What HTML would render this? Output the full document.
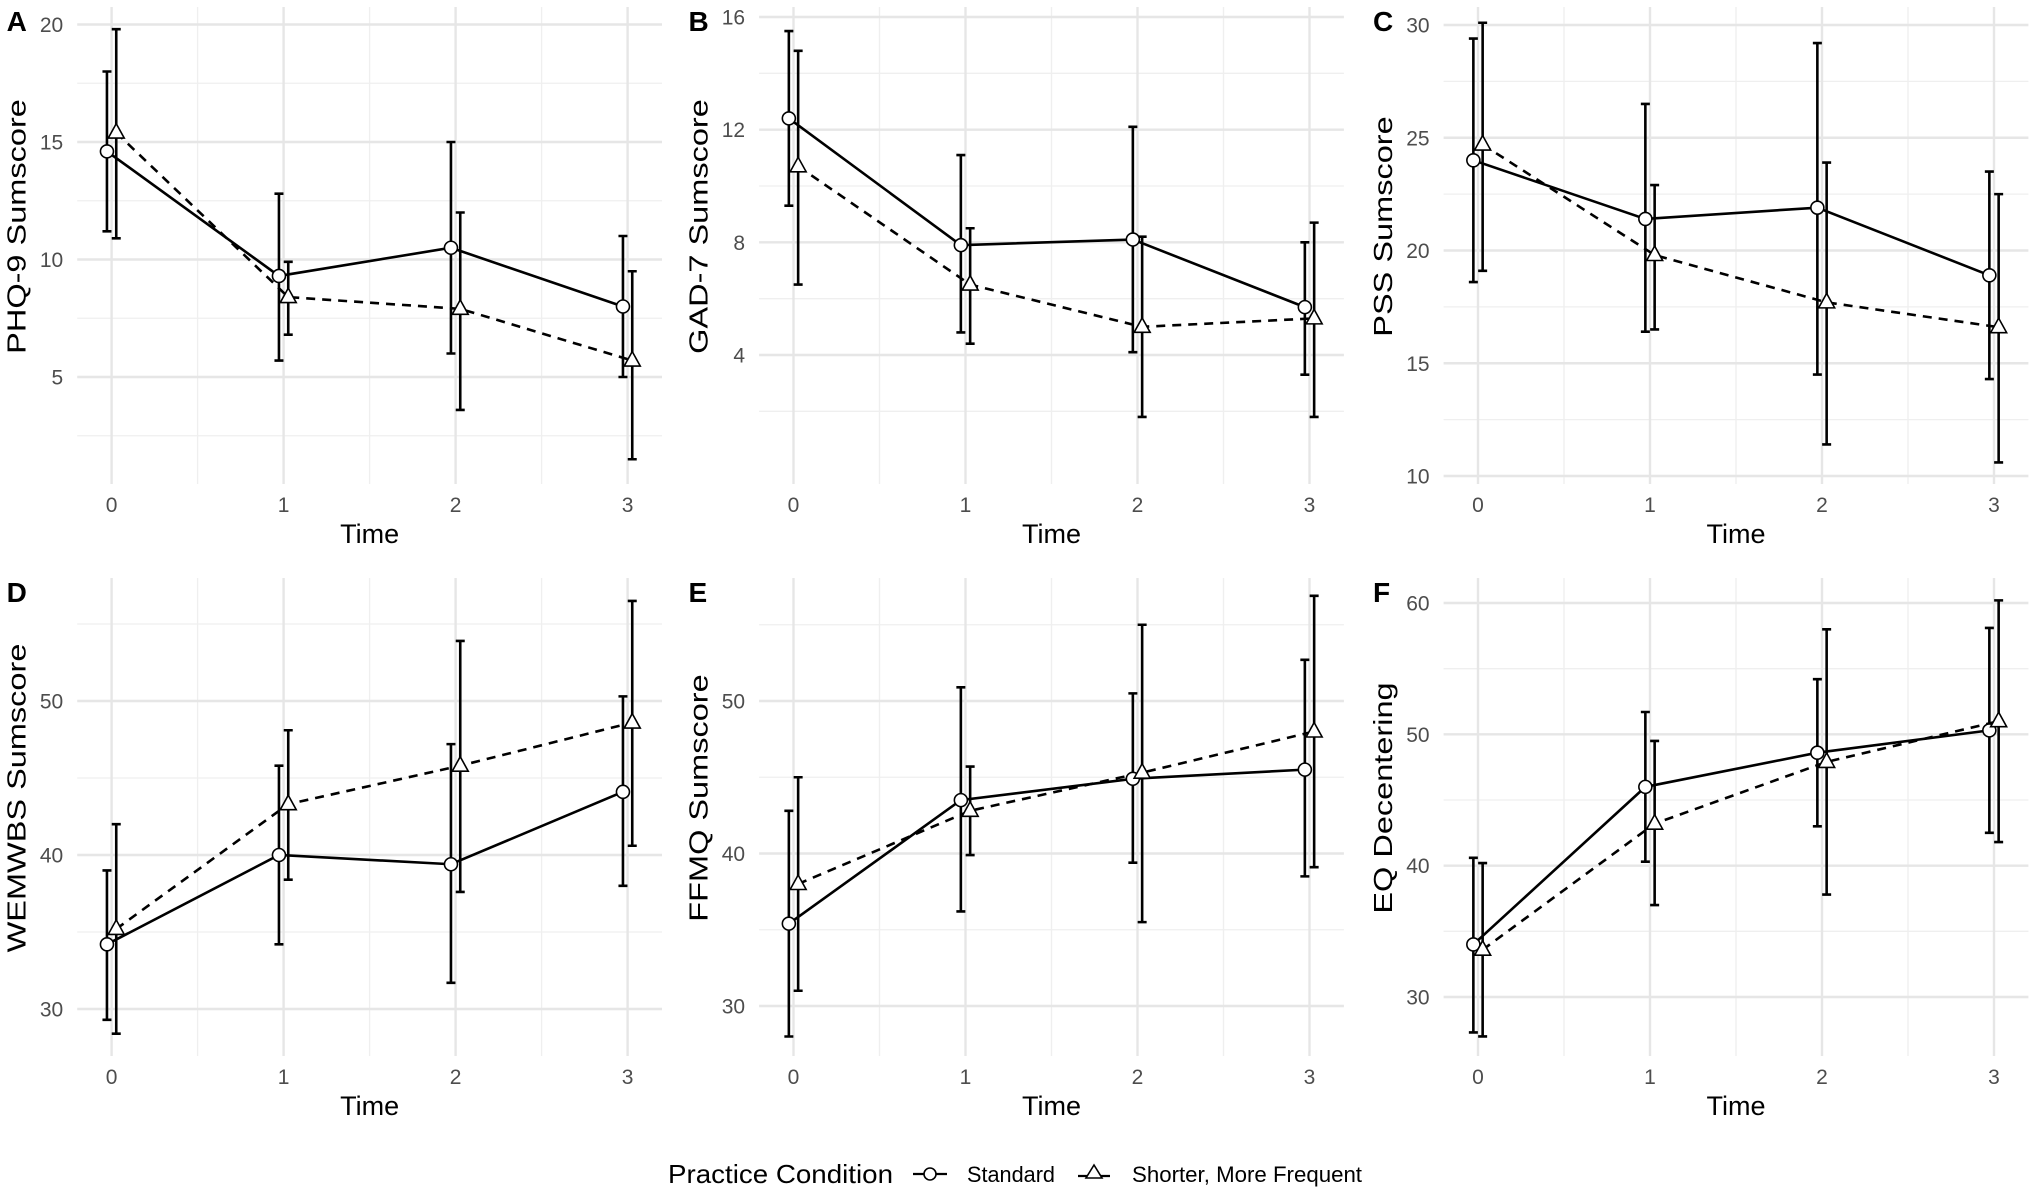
<!DOCTYPE html>
<html><head><meta charset="utf-8"><style>
html,body{margin:0;padding:0;background:#fff;}
svg{display:block;font-family:"Liberation Sans",Arial,sans-serif;}
</style></head><body>
<svg id="fig" width="2033" height="1192" viewBox="0 0 2033 1192" xmlns="http://www.w3.org/2000/svg"></svg>
<script>
const times = [0, 1, 2, 3];
const panelLetters = ["A","B","C","D","E","F"];
const yTitles = ["PHQ-9 Sumscore","GAD-7 Sumscore","PSS Sumscore","WEMWBS Sumscore","FFMQ Sumscore","EQ Decentering"];
const yTicks = [[5,10,15,20],[4,8,12,16],[10,15,20,25,30],[30,40,50],[30,40,50],[30,40,50,60]];
const stdMean = [[14.6,9.3,10.5,8.0],[12.4,7.9,8.1,5.7],[24.0,21.4,21.9,18.9],[34.2,40.0,39.4,44.1],[35.4,43.5,44.9,45.5],[34.0,46.0,48.6,50.3]];
const stdLo = [[11.2,5.7,6.0,5.0],[9.3,4.8,4.1,3.3],[18.6,16.4,14.5,14.3],[29.3,34.2,31.7,38.0],[28.0,36.2,39.4,38.5],[27.3,40.3,43.0,42.5]];
const stdHi = [[18.0,12.8,15.0,11.0],[15.5,11.1,12.1,8.0],[29.4,26.5,29.2,23.5],[39.0,45.8,47.2,50.3],[42.8,50.9,50.5,52.7],[40.6,51.7,54.2,58.1]];
const shMean = [[15.4,8.4,7.9,5.7],[10.7,6.5,5.0,5.3],[24.7,19.8,17.7,16.6],[35.2,43.3,45.8,48.6],[38.0,42.8,45.3,48.0],[33.6,43.2,47.9,51.0]];
const shLo = [[10.9,6.8,3.6,1.5],[6.5,4.4,1.8,1.8],[19.1,16.5,11.4,10.6],[28.4,38.4,37.6,40.6],[31.0,39.9,35.5,39.1],[27.0,37.0,37.8,41.8]];
const shHi = [[19.8,9.9,12.0,9.5],[14.8,8.5,8.2,8.7],[30.1,22.9,23.9,22.5],[42.0,48.1,53.9,56.5],[45.0,45.7,55.0,56.9],[40.2,49.5,58.0,60.2]];

// layout (pixel calibration, not data)
const colX0 = [111.6, 793.5, 1478];
const unitW = 172;
const rowTop = [7, 578], rowBot = [484, 1056];
const yCal = [[20,24.5,5,377],[16,17,4,355],[30,25,10,476],[50,701,30,1009],[50,701,30,1006],[60,603,30,997]];
const NS = "http://www.w3.org/2000/svg";
const svg = document.getElementById("fig");
function el(tag, attrs, parent){const e=document.createElementNS(NS,tag);for(const k in attrs)e.setAttribute(k,attrs[k]);(parent||svg).appendChild(e);return e;}
function stretch(t,f){const n=t.getComputedTextLength();t.setAttribute("textLength",n*f);t.setAttribute("lengthAdjust","spacingAndGlyphs");}

for(let p=0;p<6;p++){
  const col=p%3,row=Math.floor(p/3);
  const g=el("g",{});
  
  
  const x=t=>colX0[col]+t*unitW;
  const c=yCal[p];
  const k=(c[3]-c[1])/(c[2]-c[0]);
  const y=v=>c[1]+(v-c[0])*k;
  const L=x(-0.2),R=x(3.2),T=rowTop[row],B=rowBot[row];
  const step=yTicks[p][1]-yTicks[p][0];
  for(let v=yTicks[p][0]-step*3.5; v<=yTicks[p][yTicks[p].length-1]+step*3; v+=step){
    const yy=y(v); if(yy<T||yy>B) continue;
    el("line",{x1:L,x2:R,y1:yy,y2:yy,stroke:"#efefef","stroke-width":1.3},g);
  }
  for(const t of [0.5,1.5,2.5]) el("line",{x1:x(t),x2:x(t),y1:T,y2:B,stroke:"#efefef","stroke-width":1.3},g);
  for(const v of yTicks[p]){
    const yy=y(v);
    el("line",{x1:L,x2:R,y1:yy,y2:yy,stroke:"#e6e6e6","stroke-width":2.4},g);
    const tl=el("text",{x:L-14,y:yy+7.5,"text-anchor":"end","font-size":21,fill:"#4d4d4d"},g);
    tl.textContent=v;
    
    
  }
  for(const t of times){
    el("line",{x1:x(t),x2:x(t),y1:T,y2:B,stroke:"#e6e6e6","stroke-width":2.4},g);
    const xl=el("text",{x:x(t),y:B+28,"text-anchor":"middle","font-size":21,fill:"#4d4d4d"},g);
    xl.textContent=t;
    
    
  }
  const xt=el("text",{x:x(1.5),y:B+59,"text-anchor":"middle","font-size":27,fill:"#000"},g);
  xt.textContent="Time";
  
  
  const ytx=colX0[col]-86, ytc=(T+B)/2-19;
  const yt=el("text",{x:ytx,y:ytc,"text-anchor":"middle","font-size":26,fill:"#000",transform:`rotate(-90 ${ytx} ${ytc})`},g);
  yt.textContent=yTitles[p];
  
  
  stretch(yt,1.25);
  const lt=el("text",{x:colX0[col]-105,y:row===0?31:602,"font-size":28,"font-weight":"bold",fill:"#000"},g);
  lt.textContent=panelLetters[p];
  
  

  const series=[{m:stdMean[p],lo:stdLo[p],hi:stdHi[p],d:-0.027,dash:null,shape:"circle"},
                {m:shMean[p],lo:shLo[p],hi:shHi[p],d:0.027,dash:"9,7",shape:"tri"}];
  for(const s of series){
    const pts=times.map((t,i)=>x(t+s.d)+","+y(s.m[i])).join(" ");
    const pl=el("polyline",{points:pts,fill:"none",stroke:"#000","stroke-width":2.6},g);
    if(s.dash) pl.setAttribute("stroke-dasharray",s.dash);
    
    
  }
  for(const s of series){
    times.forEach((t,i)=>{
      const xx=x(t+s.d);
      const eb=el("path",{d:`M${xx},${y(s.lo[i])}V${y(s.hi[i])}M${xx-4.5},${y(s.lo[i])}H${xx+4.5}M${xx-4.5},${y(s.hi[i])}H${xx+4.5}`,stroke:"#000","stroke-width":2.6,fill:"none"},g);
      
      
    });
  }
  for(const s of series){
    times.forEach((t,i)=>{
      const xx=x(t+s.d),yy=y(s.m[i]);
      let m;
      if(s.shape==="circle") m=el("circle",{cx:xx,cy:yy,r:6.5,fill:"#fff",stroke:"#000","stroke-width":1.6},g);
      else m=el("polygon",{points:`${xx},${yy-9} ${xx-8},${yy+5.5} ${xx+8},${yy+5.5}`,fill:"#fff",stroke:"#000","stroke-width":1.6},g);
      
      
    });
  }
}
// legend
const lg=el("g",{});


const lt1=el("text",{x:668,y:1183,"font-size":26,fill:"#000",textLength:225,lengthAdjust:"spacingAndGlyphs"},lg);
lt1.textContent="Practice Condition";


el("line",{x1:913,x2:947,y1:1174,y2:1174,stroke:"#000","stroke-width":2.2},lg);
el("circle",{cx:930,cy:1174,r:6,fill:"#fff",stroke:"#000","stroke-width":1.6},lg);
const lt2=el("text",{x:967,y:1182,"font-size":22,fill:"#000",textLength:88,lengthAdjust:"spacingAndGlyphs"},lg);
lt2.textContent="Standard";


el("line",{x1:1078,x2:1110,y1:1176,y2:1176,stroke:"#000","stroke-width":2.2},lg);
el("polygon",{points:"1094,1165 1086,1178 1102,1178",fill:"#fff",stroke:"#000","stroke-width":1.6},lg);
const lt3=el("text",{x:1132,y:1182,"font-size":22,fill:"#000",textLength:230,lengthAdjust:"spacingAndGlyphs"},lg);
lt3.textContent="Shorter, More Frequent";


</script>
</body></html>
